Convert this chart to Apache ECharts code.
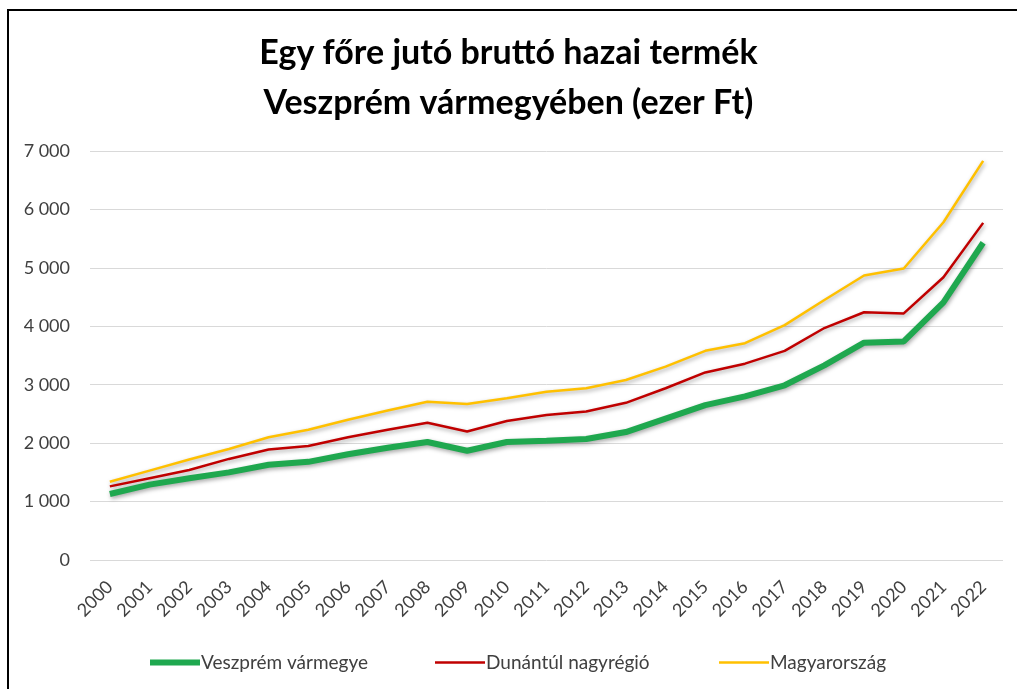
<!DOCTYPE html>
<html>
<head>
<meta charset="UTF-8" />
<title>GDP per capita Veszprém</title>
<script src="https://cdn.jsdelivr.net/npm/echarts@6/dist/echarts.min.js"></script>
<style>
  body { margin: 0; background: #fff; }
  #main { width: 1017px; height: 689px; }
</style>
</head>
<body>
<div id="main"></div>
<script>
// years on the x axis
var years = ['2000','2001','2002','2003','2004','2005','2006','2007','2008','2009','2010',
             '2011','2012','2013','2014','2015','2016','2017','2018','2019','2020','2021','2022'];

// ezer Ft
var veszprem = [1130, 1290, 1400, 1500, 1630, 1680, 1810, 1920, 2020, 1870, 2020,
                2040, 2070, 2190, 2420, 2650, 2800, 2990, 3330, 3720, 3740, 4410, 5430];
var dunantul = [1260, 1400, 1540, 1730, 1890, 1950, 2100, 2230, 2350, 2200, 2380,
                2480, 2540, 2690, 2940, 3210, 3360, 3580, 3970, 4240, 4220, 4840, 5770];
var magyar   = [1340, 1530, 1720, 1900, 2100, 2230, 2400, 2560, 2710, 2670, 2770,
                2880, 2940, 3080, 3310, 3580, 3710, 4020, 4450, 4870, 4990, 5780, 6830];

var seriesNames = ['Veszprém vármegye', 'Dunántúl nagyrégió', 'Magyarország'];

var chart = echarts.init(document.getElementById('main'));

var shadow = {shadowBlur: 4, shadowColor: 'rgba(0,0,0,0.35)', shadowOffsetX: 1, shadowOffsetY: 2};

function legendAt(left, name, color, h) {
  return {
    left: left, top: 648,
    itemWidth: 50, itemHeight: 6, itemGap: 0,
    textStyle: {fontFamily: 'Lato', fontSize: 19, color: '#404040', padding: [0, 0, 0, -4]},
    data: [{name: name, icon: 'path://M0,0h50v' + h + 'h-50z', itemStyle: {color: color}}]
  };
}

var option = {
  animation: false,
  backgroundColor: '#fff',
  title: {
    text: 'Egy főre jutó bruttó hazai termék\nVeszprém vármegyében (ezer Ft)',
    left: 'center', top: 23,
    textStyle: {fontFamily: 'Lato', fontSize: 34, fontWeight: 'bold', color: '#000', lineHeight: 50}
  },
  graphic: [{
    type: 'rect', silent: true,
    shape: {x: 8, y: 10, width: 1200, height: 900},
    style: {fill: 'none', stroke: '#000', lineWidth: 2}
  }],
  legend: [
    legendAt(145, seriesNames[0], '#1FA84F', 6),
    legendAt(430, seriesNames[1], '#C00000', 2.5),
    legendAt(714, seriesNames[2], '#FFC000', 2.5)
  ],
  grid: {left: 90, right: 14, top: 151, bottom: 129},
  xAxis: {
    type: 'category',
    data: years,
    boundaryGap: true,
    axisLine: {show: false},
    axisTick: {show: false},
    axisLabel: {rotate: 45, fontFamily: 'Lato', fontSize: 18, color: '#404040', margin: 24, interval: 0}
  },
  yAxis: {
    type: 'value',
    min: 0, max: 7000, interval: 1000,
    axisLine: {show: false},
    axisTick: {show: false},
    splitLine: {lineStyle: {color: '#d9d9d9', width: 1}},
    axisLabel: {
      fontFamily: 'Lato', fontSize: 18, color: '#404040', margin: 20,
      formatter: function (v) { return v >= 1000 ? Math.floor(v / 1000) + ' 000' : String(v); }
    }
  },
  series: [
    {name: seriesNames[0], type: 'line', data: veszprem, symbol: 'none', z: 3,
     itemStyle: {color: '#1FA84F'},
     lineStyle: Object.assign({color: '#1FA84F', width: 6}, shadow)},
    {name: seriesNames[1], type: 'line', data: dunantul, symbol: 'none', z: 2,
     itemStyle: {color: '#C00000'},
     lineStyle: Object.assign({color: '#C00000', width: 2.5}, shadow)},
    {name: seriesNames[2], type: 'line', data: magyar, symbol: 'none', z: 1,
     itemStyle: {color: '#FFC000'},
     lineStyle: Object.assign({color: '#FFC000', width: 2.5}, shadow)}
  ]
};

chart.setOption(option);
</script>
</body>
</html>
